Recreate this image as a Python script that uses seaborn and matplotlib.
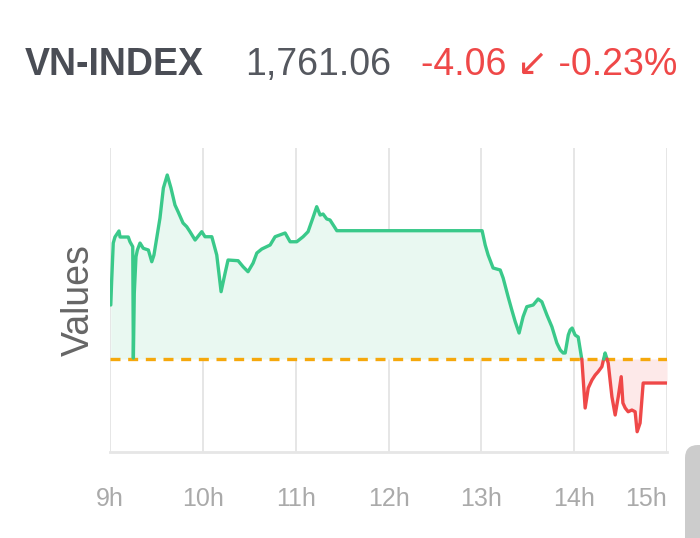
import numpy as np
import pandas as pd
import matplotlib.pyplot as plt
import seaborn as sns
from matplotlib.patches import FancyBboxPatch

# Intraday VN-INDEX, minutes after 9:00 and index level
minutes = [0.5, 1.1, 2.1, 3.2, 5.8, 6.5, 11.8, 12.9, 14.7, 15.1, 15.7, 16.8, 17.7,
           19.4, 21.5, 24.8, 27.0, 28.4, 30.2, 32.3, 34.5, 37.0, 39.4, 42.0, 44.0,
           47.2, 49.6, 51.7, 55.0, 59.3, 61.4, 65.8, 69.0, 71.8, 74.4, 76.3, 82.8,
           86.0, 89.2, 92.5, 94.9, 98.1, 103.5, 106.7, 113.2, 116.4, 120.7, 124.8,
           128.0, 131.1, 133.6, 135.8, 137.7, 140.1, 142.2, 145.0, 146.6, 240.5,
           242.5, 244.4, 247.6, 252.2, 254.1, 257.3, 259.7, 261.9, 264.4, 267.0,
           269.4, 273.5, 276.7, 279.1, 282.4, 285.6, 288.8, 291.0, 292.9, 294.2,
           296.2, 297.4, 298.7, 300.6, 302.6, 305.0, 307.1, 309.1, 311.5, 313.6,
           315.5, 317.9, 320.0, 322.0, 324.4, 326.5, 328.5, 330.4, 331.5, 333.0,
           334.9, 337.3, 339.4, 340.7, 342.6, 344.6, 360.0]
values = [1774.26, 1778.49, 1784.74, 1785.76, 1786.78, 1785.76, 1785.76, 1784.96,
          1784.12, 1765.29, 1776.29, 1782.43, 1783.56, 1784.74, 1783.85, 1783.56,
          1781.58, 1782.71, 1785.59, 1788.97, 1794.05, 1796.25, 1794.05, 1791.17,
          1790.04, 1788.13, 1787.50, 1786.66, 1785.25, 1786.66, 1785.81, 1785.81,
          1782.71, 1776.51, 1779.67, 1781.87, 1781.75, 1780.74, 1779.89, 1781.36,
          1783.05, 1783.73, 1784.41, 1785.81, 1786.44, 1784.96, 1784.96, 1785.81,
          1786.66, 1788.97, 1790.89, 1789.48, 1789.65, 1788.81, 1788.64, 1787.50,
          1786.83, 1786.83, 1784.41, 1782.71, 1780.52, 1780.18, 1778.82, 1775.66,
          1773.41, 1771.43, 1769.52, 1772.28, 1773.97, 1774.26, 1775.27, 1774.81,
          1772.56, 1770.58, 1767.83, 1766.64, 1766.14, 1766.14, 1769.18, 1770.03,
          1770.36, 1769.18, 1768.84, 1764.95, 1756.83, 1760.21, 1761.57, 1762.41,
          1762.97, 1763.82, 1766.14, 1764.44, 1758.74, 1755.65, 1758.74, 1762.13,
          1757.68, 1756.83, 1756.20, 1756.49, 1756.20, 1752.82, 1754.29, 1761.06,
          1761.06]
ref_close = 1765.12
tick_pos = [0, 60, 120, 180, 240, 300, 360]
tick_labels = ["9h", "10h", "11h", "12h", "13h", "14h", "15h"]

GREEN = "#3ac98a"
RED = "#ef4848"
GREEN_FILL = "#e9f8f1"
RED_FILL = "#fde9e9"
ORANGE = "#f5a80c"

sns.set_theme(style="white")
plt.rcParams['font.family'] = ['Liberation Sans', 'DejaVu Sans']

fig = plt.figure(figsize=(7, 5.38), dpi=100)
ax = fig.add_axes([110 / 700, 1 - 452 / 538, 557 / 700, 304 / 538])

# insert the points where the series crosses the reference level
xs, ys = [minutes[0]], [values[0]]
for i in range(1, len(minutes)):
    a, b = values[i - 1] - ref_close, values[i] - ref_close
    if a * b < 0:
        xs.append(minutes[i - 1] + (minutes[i] - minutes[i - 1]) * a / (a - b))
        ys.append(ref_close)
    xs.append(minutes[i])
    ys.append(values[i])

# split into runs above / below the reference
segs = []
cur = [(xs[0], ys[0])]
cur_sign = np.sign(ys[0] - ref_close)
for x, y in zip(xs[1:], ys[1:]):
    s = np.sign(y - ref_close)
    if s == 0 or s == cur_sign or cur_sign == 0:
        cur.append((x, y))
        if cur_sign == 0:
            cur_sign = s
    else:
        segs.append((cur_sign, cur))
        cur = [cur[-1], (x, y)]
        cur_sign = s
segs.append((cur_sign, cur))

ax.axhline(ref_close, color=ORANGE, lw=2.4, dashes=(3, 2.3), zorder=2)

for sign, pts in segs:
    df = pd.DataFrame(pts, columns=["t", "v"])
    color, fill = (GREEN, GREEN_FILL) if sign >= 0 else (RED, RED_FILL)
    ax.fill_between(df["t"], df["v"], ref_close, color=fill, lw=0, zorder=1)
    sns.lineplot(data=df, x="t", y="v", color=color, lw=2.4, ax=ax,
                 sort=False, estimator=None, zorder=3)

ax.set_xlim(0, 360)
ax.set_ylim(1749.39, 1800.82)
ax.set_xticks(tick_pos)
ax.set_xticklabels(tick_labels)
ax.set_yticks([])
ax.tick_params(axis='x', length=0, pad=25, labelsize=18, labelcolor="#aaaaaa")
ax.get_xticklabels()[-1].set_ha('right')
ax.set_xlabel("")
ax.set_ylabel("Values", fontsize=27, color="#666666")
ax.yaxis.set_label_coords(-0.024, 0.5)

ax.grid(axis='x', color="#e2e2e2", lw=1.2)
for side in ["top", "left", "right"]:
    ax.spines[side].set_visible(False)
ax.spines["bottom"].set_color("#e6e6e6")
ax.spines["bottom"].set_linewidth(2)

# header
fig.text(25 / 700, 1 - 75 / 538, "VN-INDEX", fontsize=27, fontweight='bold',
         color="#4a4d55", va='baseline')
fig.text(245 / 700, 1 - 75 / 538, "1,761.06", fontsize=27, color="#55585f",
         va='baseline')
fig.text(677 / 700, 1 - 75 / 538, "-4.06 \u2199 -0.23%", fontsize=27, color=RED,
         va='baseline', ha='right')

# scrollbar stub in the corner
fig.patches.append(FancyBboxPatch((685, -20), 40, 113,
                                  boxstyle="round,pad=0,rounding_size=13",
                                  transform=None, color="#cccccc", lw=0))

fig.savefig("out.png", dpi=100)
